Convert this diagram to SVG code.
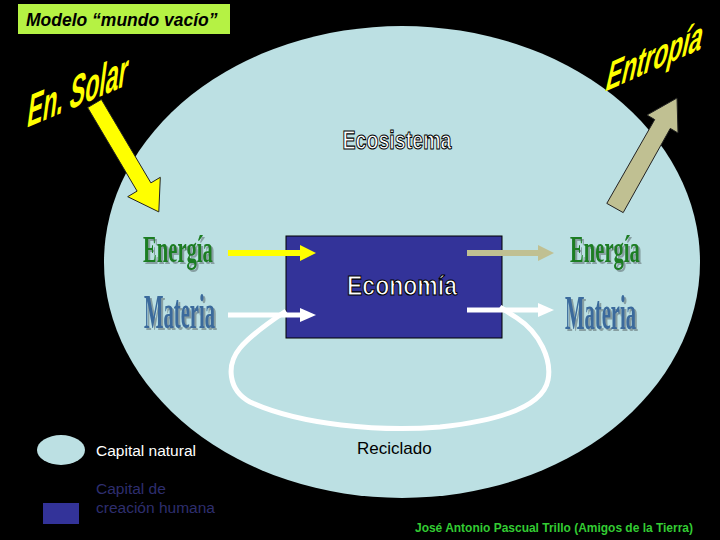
<svg xmlns="http://www.w3.org/2000/svg" width="720" height="540" viewBox="0 0 720 540">
<style>
.yellowtxt{font-family:"Liberation Sans",Arial,sans-serif;font-weight:bold;fill:#ffff00;}
.outl{font-family:"Liberation Sans",Arial,sans-serif;font-weight:bold;fill:#ffffff;stroke:#000000;stroke-width:1.1;}
.serif{font-family:"Liberation Serif","Times New Roman",serif;font-weight:bold;}
.green{fill:#1b7d22;}
.blue{fill:#3a6b9c;}
.leg{font-family:"Liberation Sans",Arial,sans-serif;font-size:15.5px;}
.bigarrow{stroke:#222222;stroke-width:1;}
</style>
<defs>
<filter id="sh" filterUnits="userSpaceOnUse" x="0" y="0" width="720" height="540">
<feDropShadow dx="2" dy="2" stdDeviation="0.6" flood-color="#6f8486" flood-opacity="0.7"/>
</filter>
<marker id="hy" markerUnits="userSpaceOnUse" markerWidth="16" markerHeight="16" refX="2" refY="8" orient="auto"><path d="M0,0 L16,8 L0,16 z" fill="#ffff00"/></marker>
<marker id="hw" markerUnits="userSpaceOnUse" markerWidth="16" markerHeight="16" refX="2" refY="7" orient="auto"><path d="M0,0 L16,7 L0,14 z" fill="#ffffff"/></marker>
<marker id="hk" markerUnits="userSpaceOnUse" markerWidth="16" markerHeight="16" refX="2" refY="8" orient="auto"><path d="M0,0 L16,8 L0,16 z" fill="#c0c092"/></marker>
</defs>
<rect x="0" y="0" width="720" height="540" fill="#000000"/>
<g id="ecosistema">
<ellipse cx="402" cy="262" rx="298" ry="236" fill="#bce0e3"/>
<text class="outl" x="397" y="149" font-size="26" text-anchor="middle" textLength="109" lengthAdjust="spacingAndGlyphs">Ecosistema</text>
</g>
<g id="title">
<rect x="18" y="4" width="212" height="30" fill="#b5f244"/>
<text x="26" y="26" font-family="Liberation Sans,Arial,sans-serif" font-weight="bold" font-style="italic" font-size="17.5" fill="#000000">Modelo “mundo vacío”</text>
</g>
<g id="solar">
<text class="yellowtxt" font-size="45" transform="translate(26,128) skewY(-23) skewX(-8) scale(0.513,1)">En. Solar</text>
<polygon class="bigarrow" fill="#ffff00" points="87.6,107.6 101.4,99.4 150.9,182.9 160.3,177.3 158.8,211.9 127.7,196.7 137.1,191.1"/>
</g>
<g id="entropia">
<text class="yellowtxt" font-size="39" transform="translate(604,92) skewY(-24) skewX(-14) scale(0.607,1)">Entropía</text>
<polygon class="bigarrow" fill="#c0c092" points="606.8,203.4 654.7,119.6 647,115 677,98 678,133 670.3,128.4 623.2,212.6"/>
</g>
<g id="economia">
<rect x="286" y="236" width="216" height="102" fill="#333399" stroke="#000000" stroke-width="1"/>
<text class="outl" x="402" y="295" font-size="27" text-anchor="middle" textLength="110" lengthAdjust="spacingAndGlyphs">Economía</text>
</g>
<g id="energia-in" filter="url(#sh)">
<text class="serif green" font-size="38" transform="translate(143,262) scale(0.543,1)">Energía</text>
</g>
<g id="materia-in" filter="url(#sh)">
<text class="serif blue" font-size="48" transform="translate(144,328) scale(0.43,1)">Materia</text>
</g>
<g id="energia-out" filter="url(#sh)">
<text class="serif green" font-size="38" transform="translate(570,262) scale(0.543,1)">Energía</text>
</g>
<g id="materia-out" filter="url(#sh)">
<text class="serif blue" font-size="48" transform="translate(565,329) scale(0.43,1)">Materia</text>
</g>
<g id="connectors" fill="none">
<path d="M 500,307 L 517,318 C 540,333 552,360 548,380 C 543,405 505,420 440,427 C 380,432 300,425 250,402 C 228,390 226,365 240,348 C 250,336 265,325 286,311" stroke="#ffffff" stroke-width="5"/>
<line x1="228" y1="253" x2="302" y2="253" stroke="#ffff00" stroke-width="6" marker-end="url(#hy)"/>
<line x1="228" y1="315" x2="302" y2="315" stroke="#ffffff" stroke-width="5" marker-end="url(#hw)"/>
<line x1="467" y1="253" x2="540" y2="253" stroke="#c0c092" stroke-width="6" marker-end="url(#hk)"/>
<line x1="467" y1="310" x2="540" y2="310" stroke="#ffffff" stroke-width="5" marker-end="url(#hw)"/>
</g>
<g id="reciclado">
<text x="357" y="454" font-family="Liberation Sans,Arial,sans-serif" font-size="17" fill="#000000">Reciclado</text>
</g>
<g id="legend-natural">
<ellipse cx="61" cy="450" rx="24" ry="15" fill="#bce0e3"/>
<text class="leg" x="96" y="456" fill="#ffffff">Capital natural</text>
</g>
<g id="legend-humana">
<rect x="43" y="503" width="36" height="21" fill="#333399"/>
<text class="leg" x="96" y="494" fill="#2e2e6e">Capital de</text>
<text class="leg" x="96" y="513" fill="#2e2e6e">creación humana</text>
</g>
<g id="credit">
<text x="415" y="532" font-family="Liberation Sans,Arial,sans-serif" font-weight="bold" font-size="12" fill="#33cc33" textLength="278" lengthAdjust="spacingAndGlyphs">José Antonio Pascual Trillo (Amigos de la Tierra)</text>
</g>
</svg>
